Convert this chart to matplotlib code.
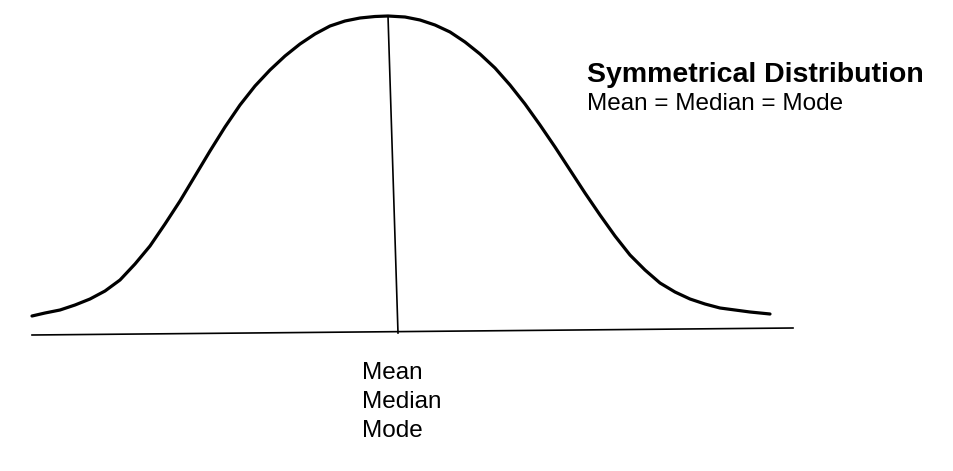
import matplotlib.pyplot as plt

# bell curve (pixel coordinates)
curve_x = [32, 45, 60, 75, 90, 105, 120, 135, 150, 165, 180, 195, 210, 225, 240, 255, 270,
           285, 300, 315, 330, 345, 360, 375, 388, 405, 420, 435, 450, 465, 480, 495, 510,
           525, 540, 555, 570, 585, 600, 615, 630, 645, 660, 675, 690, 705, 720, 735, 750, 770]
curve_y = [316, 313, 310, 305, 299, 291, 280, 264, 246, 224, 201, 176, 151, 127, 105, 86, 70,
           56, 44, 34, 26, 21, 18, 16.5, 16, 17, 20, 25, 32, 42, 54, 68, 85,
           104, 125, 147, 170, 193, 215, 236, 255, 270, 283, 292, 299, 304, 308, 310, 312, 314]
center_line = ([388, 398], [16, 333])
baseline = ([32, 793], [335, 328])
axis_labels = ["Mean", "Median", "Mode"]

fig = plt.figure(figsize=(9.54, 4.71), dpi=100)
ax = fig.add_axes([0, 0, 1, 1])
ax.set_xlim(0, 954)
ax.set_ylim(471, 0)
ax.axis("off")

ax.plot(curve_x, curve_y, color="black", linewidth=2.3, solid_capstyle="round")
ax.plot(*center_line, color="black", linewidth=1.2)
ax.plot(*baseline, color="black", linewidth=1.2)

for i, lab in enumerate(axis_labels):
    ax.text(362, 373 + i * 29, lab, fontsize=17.5, family="Liberation Sans", va="center")

ax.text(587, 75, "Symmetrical Distribution", fontsize=20.5, fontweight="bold",
        family="Liberation Sans", va="center")
ax.text(587, 104, "Mean = Median = Mode", fontsize=17.5, family="Liberation Sans", va="center")

fig.savefig("out.png", dpi=100)
